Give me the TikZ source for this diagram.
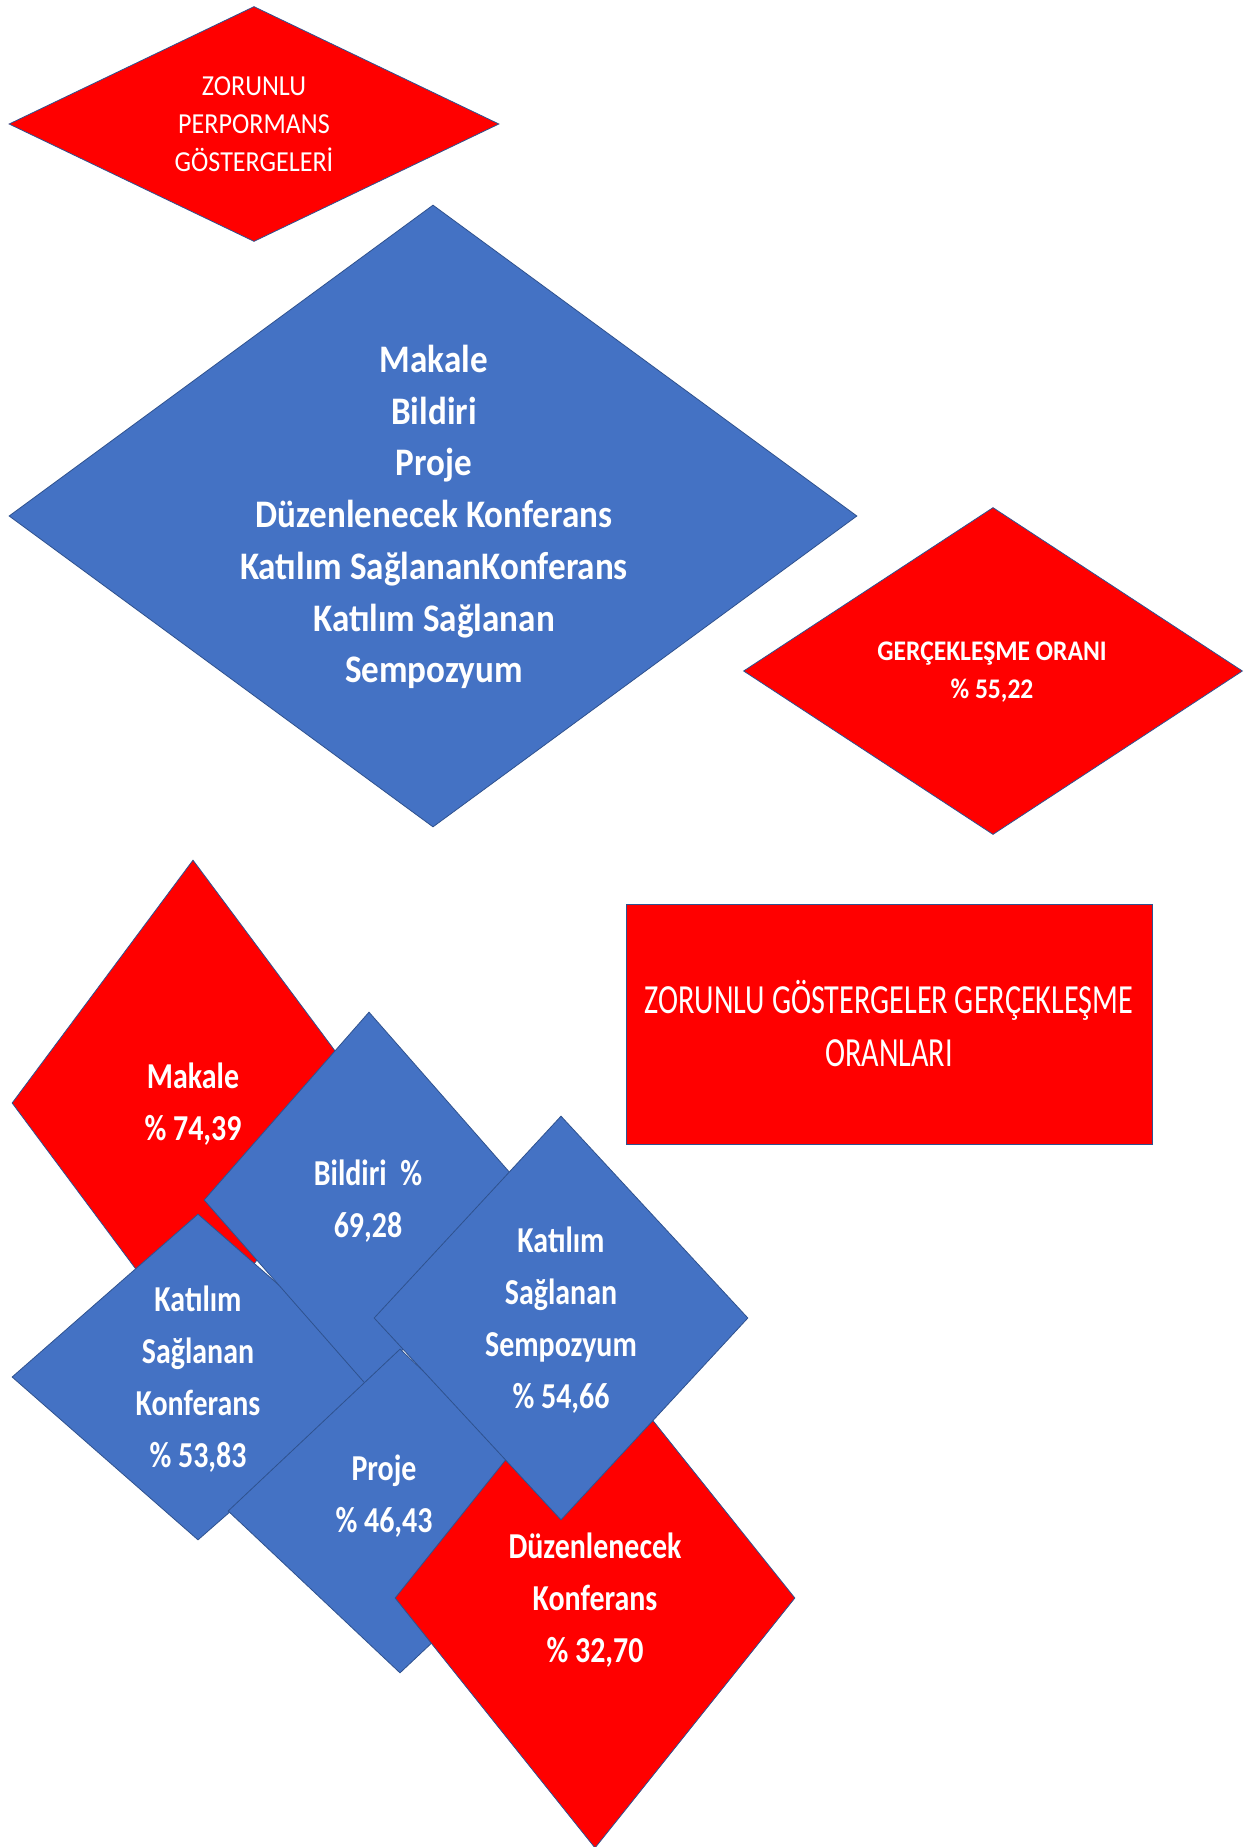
\documentclass[tikz,border=0pt]{standalone}
\usepackage{fontspec}
\setmainfont{Carlito}
\newfontfamily\genis[FakeStretch=0.9]{Carlito}
\newfontfamily\dar[FakeStretch=0.82]{Carlito}
\newfontfamily\cokdar[FakeStretch=0.73]{Carlito}
\usepackage{tikz}
\usetikzlibrary{shapes.geometric}
\definecolor{mavi}{HTML}{4472C4}
\definecolor{kirmizi}{HTML}{FF0000}
\definecolor{kenar}{HTML}{2F528F}

\begin{document}
\begin{tikzpicture}[x=1pt,y=-1pt,
  kutu/.style={diamond,draw=kenar,line width=0.8pt,inner sep=0pt},
  yazi/.style={text=white,align=center,inner sep=0pt},
  altyazi/.style={yazi,font=\dar\bfseries\fontsize{36.5}{52}\selectfont}]
\fill[white] (0,0) rectangle (1243,1847);
\useasboundingbox (0,0) rectangle (1243,1847);

% ust kisim
\node[kutu,fill=kirmizi,minimum width=490pt,minimum height=235pt] (zorunlu) at (254,124) {};
\node[yazi,font=\genis\fontsize{29}{37.7}\selectfont] (zorunluT) at (zorunlu) {ZORUNLU\\PERPORMANS\\GÖSTERGELERİ};

\node[kutu,fill=mavi,minimum width=848pt,minimum height=622pt] (liste) at (433,516) {};
\node[yazi,font=\genis\bfseries\fontsize{39}{51.7}\selectfont] (listeT) at (434,517) {Makale\\Bildiri\\Proje\\Düzenlenecek Konferans\\Katılım SağlananKonferans\\Katılım Sağlanan\\Sempozyum};

\node[kutu,fill=kirmizi,minimum width=499pt,minimum height=327pt] (oran) at (993,671) {};
\node[yazi,font=\genis\bfseries\fontsize{28.4}{38}\selectfont] (oranT) at (992,672) {GERÇEKLEŞME ORANI\\\% 55,22};

\node[draw=kenar,line width=0.8pt,fill=kirmizi,minimum width=526pt,minimum height=240pt,
  text=white,align=center,font=\cokdar\fontsize{41.4}{53}\selectfont] (baslik) at (889,1024)
  {ZORUNLU GÖSTERGELER GERÇEKLEŞME\\ORANLARI};

% alt kisim
\node[kutu,fill=kirmizi,minimum width=362pt,minimum height=486pt] (makale) at (193,1103) {};
\node[altyazi] (makaleT) at (193,1104) {Makale\\\% 74,39};

\node[kutu,fill=mavi,minimum width=372pt,minimum height=326pt] (konf) at (198,1377) {};
\node[altyazi] (konfT) at (198,1379) {Katılım\\Sağlanan\\Konferans\\\% 53,83};

\node[kutu,fill=mavi,minimum width=330pt,minimum height=376pt] (bildiri) at (369,1200) {};
\node[altyazi] (bildiriT) at (368,1201) {Bildiri \ \%\\69,28};

\node[kutu,fill=mavi,minimum width=344pt,minimum height=324pt] (proje) at (400,1511) {};
\node[altyazi] (projeT) at (384,1496) {Proje\\\% 46,43};

\node[kutu,fill=kirmizi,minimum width=400pt,minimum height=500pt] (duzen) at (595,1598) {};
\node[altyazi] (duzenT) at (595,1600) {Düzenlenecek\\Konferans\\\% 32,70};

\node[kutu,fill=mavi,minimum width=374pt,minimum height=404pt] (sempo) at (561,1318) {};
\node[altyazi] (sempoT) at (561,1320) {Katılım\\Sağlanan\\Sempozyum\\\% 54,66};
\end{tikzpicture}
\end{document}
